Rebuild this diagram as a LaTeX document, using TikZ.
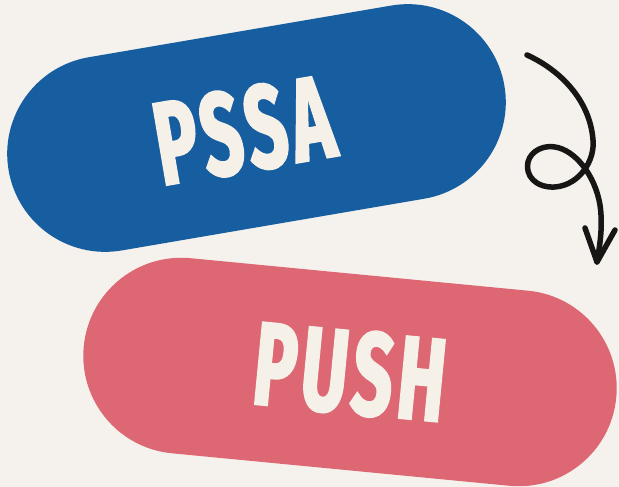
\documentclass[tikz,border=0pt]{standalone}
\usepackage{fontspec}
\newfontfamily\pillfont{Fira Sans}[FakeStretch=0.6, LetterSpace=4.5, FakeBold=2]
\definecolor{bgc}{HTML}{F5F2ED}
\definecolor{bluec}{HTML}{175EA1}
\definecolor{pinkc}{HTML}{DD6874}
\definecolor{textc}{HTML}{F6F1E8}
\definecolor{inkc}{HTML}{171614}
\tikzset{
  pill/.style={rectangle, rounded corners=98pt, inner sep=0pt, outer sep=0pt,
    minimum width=503pt, minimum height=196pt, text=textc,
    font=\pillfont\bfseries\fontsize{118}{118}\selectfont},
  squiggle/.style={draw=inkc, line width=5.5pt, line cap=round, line join=round}
}
\begin{document}
\begin{tikzpicture}[x=1pt, y=1pt]
\useasboundingbox (0,0) rectangle (619,487);
\clip (0,0) rectangle (619,487);
\fill[bgc] (0,0) rectangle (619,487);
\node[pill, fill=bluec, rotate=9.7] (pssa) at (256.5,359) {PSSA\kern26pt\relax};
\node[pill, fill=pinkc, minimum width=535pt, rotate=-5.5] (push) at (350,115) {PUSH};
\coordinate (a0) at (527,432);
\coordinate (a1) at (593,347);
\coordinate (a2) at (555,300);
\coordinate (a3) at (528,325);
\coordinate (a4) at (555,340);
\coordinate (a5) at (600,282);
\coordinate (tip) at (597,225);
\coordinate (armL) at (585,259);
\coordinate (armR) at (615,257);
\draw[squiggle] (a0) .. controls (560,417) and (590,387) .. (a1)
  .. controls (595,327) and (580,302) .. (a2)
  .. controls (535,299) and (525,312) .. (a3)
  .. controls (531,337) and (545,342) .. (a4)
  .. controls (575,337) and (595,312) .. (a5)
  .. controls (603,262) and (600,242) .. (tip);
\draw[squiggle] (armL) -- (tip) -- (armR);
\end{tikzpicture}
\end{document}
